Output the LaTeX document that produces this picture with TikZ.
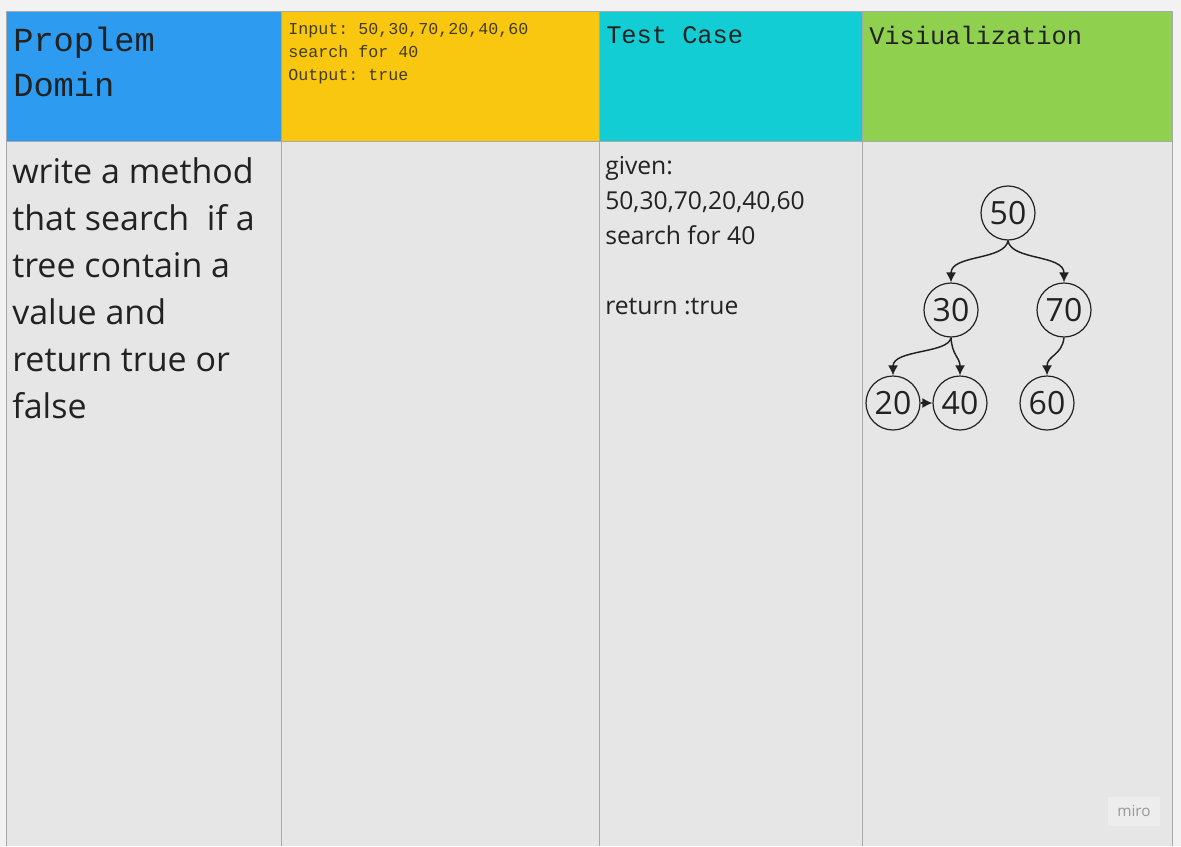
\documentclass[tikz,border=0pt]{standalone}
\usepackage{fontspec}
\setmainfont{Open Sans}
\setmonofont{Liberation Mono}
\usetikzlibrary{arrows.meta}

\definecolor{bluecell}{HTML}{2D9BF0}
\definecolor{yellowcell}{HTML}{FAC710}
\definecolor{cyancell}{HTML}{12CDD4}
\definecolor{greencell}{HTML}{8FD14F}
\definecolor{bodycell}{HTML}{E6E6E6}
\definecolor{backgr}{HTML}{F2F2F2}
\definecolor{rulegray}{HTML}{A8A8A8}
\definecolor{ink}{HTML}{222222}

\tikzset{
  txt/.style={anchor=north west, inner sep=0pt, text=ink, align=left},
  bst/.style={circle, draw=ink, line width=0.9pt, minimum size=40.5pt, inner sep=0pt,
    font=\fontsize{24}{24}\selectfont, text=ink},
  treearrow/.style={draw=ink, line width=1.1pt, -{Latex[length=7.5pt,width=7.5pt]}}
}

\begin{document}
\begin{tikzpicture}[x=0.75pt,y=-0.75pt]
\useasboundingbox (0,0) rectangle (1181,846);
\fill[backgr] (0,0) rectangle (1181,846);
% cells
\fill[bodycell] (6,141) rectangle (1172,846);
\fill[bluecell] (6,11) rectangle (281,141);
\fill[yellowcell] (281,11) rectangle (599,141);
\fill[cyancell] (599,11) rectangle (862,141);
\fill[greencell] (862,11) rectangle (1172,141);
\foreach \c in {6,281,599,862,1172}
  \draw[rulegray] (\c,11) -- (\c,846);
\draw[rulegray] (6,11) -- (1172,11);
\draw[rulegray] (6,141) -- (1172,141);

% headers
\node[txt, font=\ttfamily\fontsize{25.3}{33.75}\selectfont] (domain) at (13,27) {Proplem\\Domin};
\node[txt, font=\ttfamily\fontsize{12.5}{17.25}\selectfont, text=ink!85!yellowcell] (io) at (288,23) {Input: 50,30,70,20,40,60\\search for 40\\Output: true};
\node[txt, font=\ttfamily\fontsize{19}{19}\selectfont] (testcase) at (606,26) {Test Case};
\node[txt, font=\ttfamily\fontsize{19}{19}\selectfont] (visual) at (869,26) {Visiualization};

% body
\node[txt, font=\fontsize{25.5}{35.25}\selectfont] (problem) at (12,157)
  {write a method\\that search~ if a\\tree contain a\\value and\\return true or\\false};
\node[txt, font=\fontsize{18.5}{26.25}\selectfont] (given) at (605,156)
  {given:\\50,30,70,20,40,60\\search for 40\\[26.25pt]return :true};

% tree
\node[bst] (n50) at (1008,213) {50};
\node[bst] (n30) at (951,310) {30};
\node[bst] (n70) at (1064,310) {70};
\node[bst] (n20) at (893,403) {20};
\node[bst] (n40) at (960,403) {40};
\node[bst] (n60) at (1047,403) {60};
\draw[treearrow] (n50.south) .. controls +(-3,20) and +(0,-28) .. (n30.north);
\draw[treearrow] (n50.south) .. controls +(3,20) and +(0,-28) .. (n70.north);
\draw[treearrow] (n30.south) .. controls +(-2,16) and +(0,-26) .. (n20.north);
\draw[treearrow] (n30.south) .. controls +(1,18) and +(0,-18) .. (n40.north);
\draw[treearrow] (n70.south) .. controls +(-2,18) and +(0,-20) .. (n60.north);
\draw[treearrow] (n20.east) -- (n40.west);

% watermark
\fill[backgr!60!bodycell] (1108,797) rectangle (1160,826);
\node[font=\fontsize{11.5}{11.5}\selectfont, text=black!40] (miro) at (1134,811) {miro};
\end{tikzpicture}
\end{document}
